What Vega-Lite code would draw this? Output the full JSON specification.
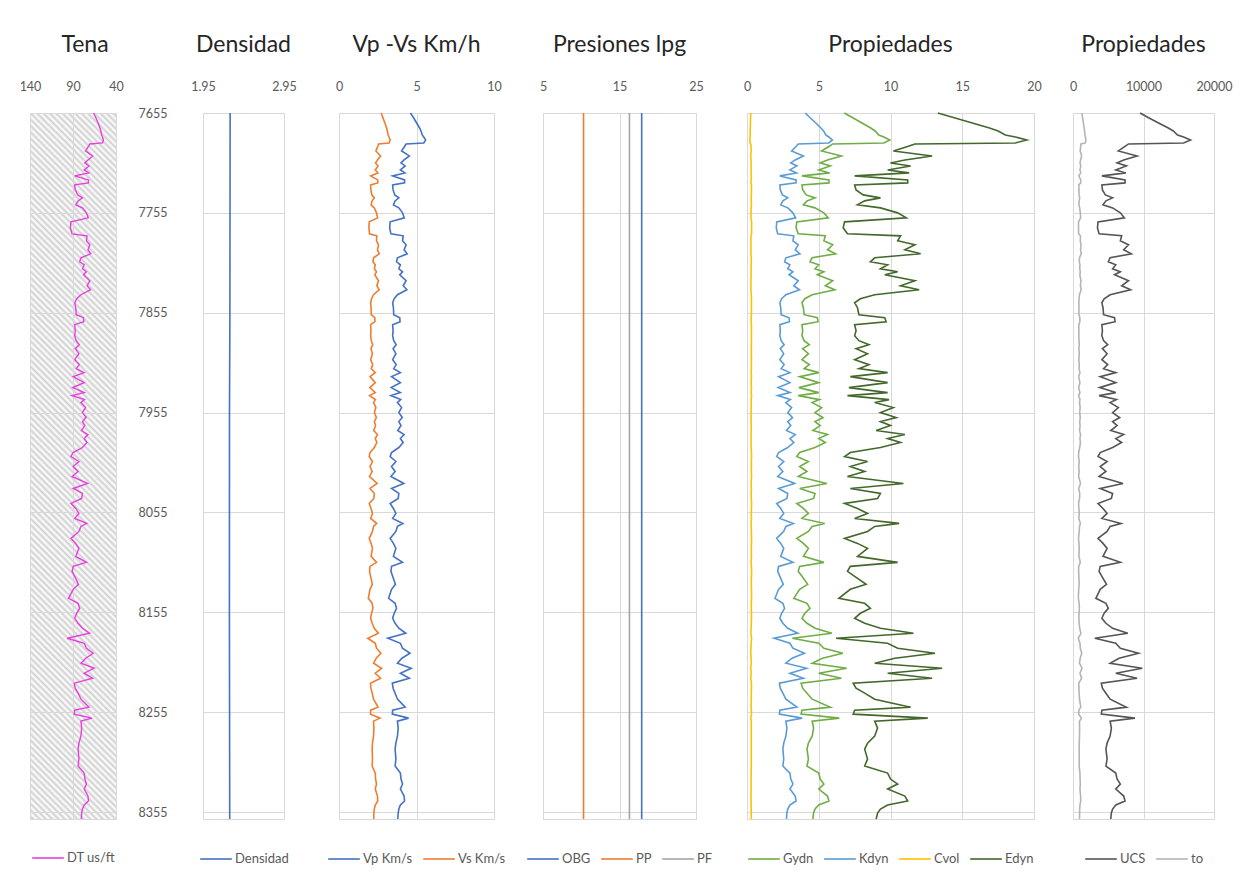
{
  "$schema": "https://vega.github.io/schema/vega-lite/v6.json",
  "autosize": {"type": "pad"},
  "padding": {"left": 18, "top": 33, "right": 5, "bottom": 4},
  "background": "white",
  "config": {
    "font": "Lato",
    "view": {"stroke": "#d9d9d9", "strokeWidth": 1},
    "axis": {"labelFont": "Lato", "labelFontSize": 12.5, "labelColor": "#595959", "gridColor": "#d9d9d9", "gridWidth": 1, "domain": false, "ticks": false, "tickSize": 0, "labelFlush": false, "labelOverlap": false, "labelPadding": 20},
    "title": {"font": "Lato", "fontSize": 23, "color": "#262626", "fontWeight": "normal", "offset": 23, "anchor": "middle", "baseline": "bottom"},
    "legend": {"orient": "bottom", "direction": "horizontal", "symbolType": "stroke", "symbolSize": 1000, "symbolStrokeWidth": 1.5, "labelFont": "Lato", "labelFontSize": 13, "labelColor": "#595959", "offset": 19, "padding": 0, "columnPadding": 6, "labelOffset": 2, "layout": {"bottom": {"anchor": "middle"}}},
    "line": {"strokeWidth": 1.6}
  },
  "datasets": {
    "log": [
      {"d":7655,"DT":66.1,"Vp":4.61,"Vs":2.72,"Gydn":6.78,"Kdyn":4.06,"Cvol":0.26,"Edyn":13.3,"UCS":9506,"to":1260},
      {"d":7660,"DT":63.3,"Vp":4.82,"Vs":2.84,"Gydn":7.4,"Kdyn":4.42,"Cvol":0.25,"Edyn":14.5,"UCS":10792,"to":1363},
      {"d":7665,"DT":60.8,"Vp":5.01,"Vs":2.96,"Gydn":8.01,"Kdyn":4.79,"Cvol":0.24,"Edyn":15.7,"UCS":12132,"to":1471},
      {"d":7670,"DT":58.6,"Vp":5.2,"Vs":3.07,"Gydn":8.62,"Kdyn":5.15,"Cvol":0.23,"Edyn":16.9,"UCS":13518,"to":1581},
      {"d":7673,"DT":57.6,"Vp":5.29,"Vs":3.12,"Gydn":8.93,"Kdyn":5.34,"Cvol":0.22,"Edyn":17.5,"UCS":14230,"to":1638},
      {"d":7677,"DT":56.8,"Vp":5.37,"Vs":3.17,"Gydn":9.18,"Kdyn":5.49,"Cvol":0.22,"Edyn":18,"UCS":14831,"to":1686},
      {"d":7679,"DT":55.7,"Vp":5.47,"Vs":3.23,"Gydn":9.54,"Kdyn":5.7,"Cvol":0.21,"Edyn":18.7,"UCS":15686,"to":1755},
      {"d":7682,"DT":54.6,"Vp":5.59,"Vs":3.3,"Gydn":9.95,"Kdyn":5.95,"Cvol":0.2,"Edyn":19.5,"UCS":16682,"to":1835},
      {"d":7685,"DT":55.7,"Vp":5.47,"Vs":3.23,"Gydn":9.54,"Kdyn":5.7,"Cvol":0.21,"Edyn":18.7,"UCS":15686,"to":1755},
      {"d":7686,"DT":70.4,"Vp":4.33,"Vs":2.55,"Gydn":5.97,"Kdyn":3.57,"Cvol":0.27,"Edyn":11.7,"UCS":7873,"to":1130},
      {"d":7688,"DT":71.7,"Vp":4.25,"Vs":2.51,"Gydn":5.76,"Kdyn":3.45,"Cvol":0.28,"Edyn":11.3,"UCS":7481,"to":1098},
      {"d":7693,"DT":75.4,"Vp":4.04,"Vs":2.38,"Gydn":5.2,"Kdyn":3.11,"Cvol":0.29,"Edyn":10.2,"UCS":6435,"to":1015},
      {"d":7698,"DT":67.1,"Vp":4.54,"Vs":2.68,"Gydn":6.58,"Kdyn":3.93,"Cvol":0.26,"Edyn":12.9,"UCS":9088,"to":1227},
      {"d":7702,"DT":72.6,"Vp":4.2,"Vs":2.48,"Gydn":5.61,"Kdyn":3.36,"Cvol":0.28,"Edyn":11,"UCS":7191,"to":1075},
      {"d":7705,"DT":76.2,"Vp":4,"Vs":2.36,"Gydn":5.1,"Kdyn":3.05,"Cvol":0.29,"Edyn":10,"UCS":6251,"to":1000},
      {"d":7708,"DT":71.4,"Vp":4.27,"Vs":2.52,"Gydn":5.81,"Kdyn":3.48,"Cvol":0.28,"Edyn":11.4,"UCS":7578,"to":1106},
      {"d":7712,"DT":77,"Vp":3.96,"Vs":2.34,"Gydn":5,"Kdyn":2.99,"Cvol":0.29,"Edyn":9.8,"UCS":6068,"to":985},
      {"d":7715,"DT":71.7,"Vp":4.25,"Vs":2.51,"Gydn":5.76,"Kdyn":3.45,"Cvol":0.28,"Edyn":11.3,"UCS":7481,"to":1098},
      {"d":7718,"DT":88,"Vp":3.46,"Vs":2.04,"Gydn":3.83,"Kdyn":2.29,"Cvol":0.31,"Edyn":7.5,"UCS":4095,"to":828},
      {"d":7722,"DT":72,"Vp":4.23,"Vs":2.5,"Gydn":5.71,"Kdyn":3.42,"Cvol":0.28,"Edyn":11.2,"UCS":7383,"to":1091},
      {"d":7725,"DT":72,"Vp":4.23,"Vs":2.5,"Gydn":5.71,"Kdyn":3.42,"Cvol":0.28,"Edyn":11.2,"UCS":7383,"to":1091},
      {"d":7727,"DT":88,"Vp":3.46,"Vs":2.04,"Gydn":3.83,"Kdyn":2.29,"Cvol":0.31,"Edyn":7.5,"UCS":4095,"to":828},
      {"d":7732,"DT":87.4,"Vp":3.49,"Vs":2.06,"Gydn":3.88,"Kdyn":2.32,"Cvol":0.31,"Edyn":7.6,"UCS":4175,"to":834},
      {"d":7737,"DT":84.7,"Vp":3.6,"Vs":2.12,"Gydn":4.13,"Kdyn":2.47,"Cvol":0.31,"Edyn":8.1,"UCS":4586,"to":867},
      {"d":7740,"DT":79,"Vp":3.86,"Vs":2.28,"Gydn":4.74,"Kdyn":2.84,"Cvol":0.29,"Edyn":9.3,"UCS":5618,"to":949},
      {"d":7743,"DT":84.1,"Vp":3.62,"Vs":2.14,"Gydn":4.18,"Kdyn":2.5,"Cvol":0.3,"Edyn":8.2,"UCS":4669,"to":874},
      {"d":7747,"DT":86.8,"Vp":3.51,"Vs":2.07,"Gydn":3.93,"Kdyn":2.35,"Cvol":0.31,"Edyn":7.7,"UCS":4257,"to":841},
      {"d":7750,"DT":79,"Vp":3.86,"Vs":2.28,"Gydn":4.74,"Kdyn":2.84,"Cvol":0.29,"Edyn":9.3,"UCS":5618,"to":949},
      {"d":7755,"DT":74.4,"Vp":4.1,"Vs":2.42,"Gydn":5.36,"Kdyn":3.2,"Cvol":0.28,"Edyn":10.5,"UCS":6715,"to":1037},
      {"d":7760,"DT":72.3,"Vp":4.21,"Vs":2.49,"Gydn":5.66,"Kdyn":3.39,"Cvol":0.28,"Edyn":11.1,"UCS":7286,"to":1083},
      {"d":7764,"DT":92.4,"Vp":3.3,"Vs":1.95,"Gydn":3.47,"Kdyn":2.07,"Cvol":0.32,"Edyn":6.8,"UCS":3546,"to":784},
      {"d":7770,"DT":93.1,"Vp":3.27,"Vs":1.93,"Gydn":3.42,"Kdyn":2.04,"Cvol":0.32,"Edyn":6.7,"UCS":3469,"to":778},
      {"d":7776,"DT":91.1,"Vp":3.35,"Vs":1.97,"Gydn":3.57,"Kdyn":2.14,"Cvol":0.32,"Edyn":7,"UCS":3700,"to":796},
      {"d":7778,"DT":73.7,"Vp":4.14,"Vs":2.44,"Gydn":5.46,"Kdyn":3.26,"Cvol":0.28,"Edyn":10.7,"UCS":6904,"to":1052},
      {"d":7783,"DT":74.4,"Vp":4.1,"Vs":2.42,"Gydn":5.36,"Kdyn":3.2,"Cvol":0.28,"Edyn":10.5,"UCS":6715,"to":1037},
      {"d":7787,"DT":70.4,"Vp":4.33,"Vs":2.55,"Gydn":5.97,"Kdyn":3.57,"Cvol":0.27,"Edyn":11.7,"UCS":7873,"to":1130},
      {"d":7792,"DT":72.6,"Vp":4.2,"Vs":2.48,"Gydn":5.61,"Kdyn":3.36,"Cvol":0.28,"Edyn":11,"UCS":7191,"to":1075},
      {"d":7796,"DT":69.3,"Vp":4.4,"Vs":2.6,"Gydn":6.17,"Kdyn":3.69,"Cvol":0.27,"Edyn":12.1,"UCS":8272,"to":1162},
      {"d":7800,"DT":80.8,"Vp":3.77,"Vs":2.23,"Gydn":4.54,"Kdyn":2.71,"Cvol":0.3,"Edyn":8.9,"UCS":5266,"to":921},
      {"d":7804,"DT":82.2,"Vp":3.71,"Vs":2.19,"Gydn":4.39,"Kdyn":2.62,"Cvol":0.3,"Edyn":8.6,"UCS":5008,"to":901},
      {"d":7807,"DT":77,"Vp":3.96,"Vs":2.34,"Gydn":5,"Kdyn":2.99,"Cvol":0.29,"Edyn":9.8,"UCS":6068,"to":985},
      {"d":7811,"DT":79,"Vp":3.86,"Vs":2.28,"Gydn":4.74,"Kdyn":2.84,"Cvol":0.29,"Edyn":9.3,"UCS":5618,"to":949},
      {"d":7814,"DT":74.4,"Vp":4.1,"Vs":2.42,"Gydn":5.36,"Kdyn":3.2,"Cvol":0.28,"Edyn":10.5,"UCS":6715,"to":1037},
      {"d":7817,"DT":77.8,"Vp":3.92,"Vs":2.31,"Gydn":4.9,"Kdyn":2.93,"Cvol":0.29,"Edyn":9.6,"UCS":5886,"to":971},
      {"d":7823,"DT":70.4,"Vp":4.33,"Vs":2.55,"Gydn":5.97,"Kdyn":3.57,"Cvol":0.27,"Edyn":11.7,"UCS":7873,"to":1130},
      {"d":7828,"DT":73.7,"Vp":4.14,"Vs":2.44,"Gydn":5.46,"Kdyn":3.26,"Cvol":0.28,"Edyn":10.7,"UCS":6904,"to":1052},
      {"d":7832,"DT":69.6,"Vp":4.38,"Vs":2.59,"Gydn":6.12,"Kdyn":3.66,"Cvol":0.27,"Edyn":12,"UCS":8172,"to":1154},
      {"d":7837,"DT":80.8,"Vp":3.77,"Vs":2.23,"Gydn":4.54,"Kdyn":2.71,"Cvol":0.3,"Edyn":8.9,"UCS":5266,"to":921},
      {"d":7841,"DT":85.7,"Vp":3.56,"Vs":2.1,"Gydn":4.03,"Kdyn":2.41,"Cvol":0.31,"Edyn":7.9,"UCS":4420,"to":854},
      {"d":7845,"DT":88,"Vp":3.46,"Vs":2.04,"Gydn":3.83,"Kdyn":2.29,"Cvol":0.31,"Edyn":7.5,"UCS":4095,"to":828},
      {"d":7850,"DT":86.8,"Vp":3.51,"Vs":2.07,"Gydn":3.93,"Kdyn":2.35,"Cvol":0.31,"Edyn":7.7,"UCS":4257,"to":841},
      {"d":7857,"DT":86.3,"Vp":3.53,"Vs":2.08,"Gydn":3.98,"Kdyn":2.38,"Cvol":0.31,"Edyn":7.8,"UCS":4338,"to":847},
      {"d":7860,"DT":77.8,"Vp":3.92,"Vs":2.31,"Gydn":4.9,"Kdyn":2.93,"Cvol":0.29,"Edyn":9.6,"UCS":5886,"to":971},
      {"d":7864,"DT":77.4,"Vp":3.94,"Vs":2.32,"Gydn":4.95,"Kdyn":2.96,"Cvol":0.29,"Edyn":9.7,"UCS":5978,"to":978},
      {"d":7867,"DT":88,"Vp":3.46,"Vs":2.04,"Gydn":3.83,"Kdyn":2.29,"Cvol":0.31,"Edyn":7.5,"UCS":4095,"to":828},
      {"d":7873,"DT":87.4,"Vp":3.49,"Vs":2.06,"Gydn":3.88,"Kdyn":2.32,"Cvol":0.31,"Edyn":7.6,"UCS":4175,"to":834},
      {"d":7878,"DT":88,"Vp":3.46,"Vs":2.04,"Gydn":3.83,"Kdyn":2.29,"Cvol":0.31,"Edyn":7.5,"UCS":4095,"to":828},
      {"d":7883,"DT":86.3,"Vp":3.53,"Vs":2.08,"Gydn":3.98,"Kdyn":2.38,"Cvol":0.31,"Edyn":7.8,"UCS":4338,"to":847},
      {"d":7887,"DT":82.7,"Vp":3.69,"Vs":2.18,"Gydn":4.34,"Kdyn":2.59,"Cvol":0.3,"Edyn":8.5,"UCS":4922,"to":894},
      {"d":7891,"DT":87.4,"Vp":3.49,"Vs":2.06,"Gydn":3.88,"Kdyn":2.32,"Cvol":0.31,"Edyn":7.6,"UCS":4175,"to":834},
      {"d":7896,"DT":83.1,"Vp":3.67,"Vs":2.16,"Gydn":4.28,"Kdyn":2.56,"Cvol":0.3,"Edyn":8.4,"UCS":4837,"to":887},
      {"d":7902,"DT":88,"Vp":3.46,"Vs":2.04,"Gydn":3.83,"Kdyn":2.29,"Cvol":0.31,"Edyn":7.5,"UCS":4095,"to":828},
      {"d":7907,"DT":82.7,"Vp":3.69,"Vs":2.18,"Gydn":4.34,"Kdyn":2.59,"Cvol":0.3,"Edyn":8.5,"UCS":4922,"to":894},
      {"d":7911,"DT":86.3,"Vp":3.53,"Vs":2.08,"Gydn":3.98,"Kdyn":2.38,"Cvol":0.31,"Edyn":7.8,"UCS":4338,"to":847},
      {"d":7915,"DT":77,"Vp":3.96,"Vs":2.34,"Gydn":5,"Kdyn":2.99,"Cvol":0.29,"Edyn":9.8,"UCS":6068,"to":985},
      {"d":7919,"DT":89.8,"Vp":3.39,"Vs":2,"Gydn":3.67,"Kdyn":2.2,"Cvol":0.31,"Edyn":7.2,"UCS":3857,"to":809},
      {"d":7925,"DT":77,"Vp":3.96,"Vs":2.34,"Gydn":5,"Kdyn":2.99,"Cvol":0.29,"Edyn":9.8,"UCS":6068,"to":985},
      {"d":7930,"DT":90.4,"Vp":3.37,"Vs":1.99,"Gydn":3.62,"Kdyn":2.17,"Cvol":0.31,"Edyn":7.1,"UCS":3778,"to":802},
      {"d":7935,"DT":77,"Vp":3.96,"Vs":2.34,"Gydn":5,"Kdyn":2.99,"Cvol":0.29,"Edyn":9.8,"UCS":6068,"to":985},
      {"d":7938,"DT":91.1,"Vp":3.35,"Vs":1.97,"Gydn":3.57,"Kdyn":2.14,"Cvol":0.32,"Edyn":7,"UCS":3700,"to":796},
      {"d":7942,"DT":76.6,"Vp":3.98,"Vs":2.35,"Gydn":5.05,"Kdyn":3.02,"Cvol":0.29,"Edyn":9.9,"UCS":6159,"to":993},
      {"d":7945,"DT":80.8,"Vp":3.77,"Vs":2.23,"Gydn":4.54,"Kdyn":2.71,"Cvol":0.3,"Edyn":8.9,"UCS":5266,"to":921},
      {"d":7950,"DT":75.4,"Vp":4.04,"Vs":2.38,"Gydn":5.2,"Kdyn":3.11,"Cvol":0.29,"Edyn":10.2,"UCS":6435,"to":1015},
      {"d":7955,"DT":79,"Vp":3.86,"Vs":2.28,"Gydn":4.74,"Kdyn":2.84,"Cvol":0.29,"Edyn":9.3,"UCS":5618,"to":949},
      {"d":7960,"DT":74.7,"Vp":4.08,"Vs":2.41,"Gydn":5.3,"Kdyn":3.17,"Cvol":0.28,"Edyn":10.4,"UCS":6622,"to":1030},
      {"d":7964,"DT":79,"Vp":3.86,"Vs":2.28,"Gydn":4.74,"Kdyn":2.84,"Cvol":0.29,"Edyn":9.3,"UCS":5618,"to":949},
      {"d":7968,"DT":76.2,"Vp":4,"Vs":2.36,"Gydn":5.1,"Kdyn":3.05,"Cvol":0.29,"Edyn":10,"UCS":6251,"to":1000},
      {"d":7973,"DT":80.3,"Vp":3.79,"Vs":2.24,"Gydn":4.59,"Kdyn":2.75,"Cvol":0.3,"Edyn":9,"UCS":5354,"to":928},
      {"d":7977,"DT":72.6,"Vp":4.2,"Vs":2.48,"Gydn":5.61,"Kdyn":3.36,"Cvol":0.28,"Edyn":11,"UCS":7191,"to":1075},
      {"d":7981,"DT":77,"Vp":3.96,"Vs":2.34,"Gydn":5,"Kdyn":2.99,"Cvol":0.29,"Edyn":9.8,"UCS":6068,"to":985},
      {"d":7985,"DT":73.7,"Vp":4.14,"Vs":2.44,"Gydn":5.46,"Kdyn":3.26,"Cvol":0.28,"Edyn":10.7,"UCS":6904,"to":1052},
      {"d":7990,"DT":79,"Vp":3.86,"Vs":2.28,"Gydn":4.74,"Kdyn":2.84,"Cvol":0.29,"Edyn":9.3,"UCS":5618,"to":949},
      {"d":7995,"DT":89.8,"Vp":3.39,"Vs":2,"Gydn":3.67,"Kdyn":2.2,"Cvol":0.31,"Edyn":7.2,"UCS":3857,"to":809},
      {"d":7999,"DT":92.4,"Vp":3.3,"Vs":1.95,"Gydn":3.47,"Kdyn":2.07,"Cvol":0.32,"Edyn":6.8,"UCS":3546,"to":784},
      {"d":8004,"DT":83.1,"Vp":3.67,"Vs":2.16,"Gydn":4.28,"Kdyn":2.56,"Cvol":0.3,"Edyn":8.4,"UCS":4837,"to":887},
      {"d":8009,"DT":89.8,"Vp":3.39,"Vs":2,"Gydn":3.67,"Kdyn":2.2,"Cvol":0.31,"Edyn":7.2,"UCS":3857,"to":809},
      {"d":8014,"DT":84.1,"Vp":3.62,"Vs":2.14,"Gydn":4.18,"Kdyn":2.5,"Cvol":0.3,"Edyn":8.2,"UCS":4669,"to":874},
      {"d":8019,"DT":91.1,"Vp":3.35,"Vs":1.97,"Gydn":3.57,"Kdyn":2.14,"Cvol":0.32,"Edyn":7,"UCS":3700,"to":796},
      {"d":8026,"DT":73,"Vp":4.18,"Vs":2.46,"Gydn":5.56,"Kdyn":3.32,"Cvol":0.28,"Edyn":10.9,"UCS":7094,"to":1068},
      {"d":8031,"DT":89.8,"Vp":3.39,"Vs":2,"Gydn":3.67,"Kdyn":2.2,"Cvol":0.31,"Edyn":7.2,"UCS":3857,"to":809},
      {"d":8036,"DT":79,"Vp":3.86,"Vs":2.28,"Gydn":4.74,"Kdyn":2.84,"Cvol":0.29,"Edyn":9.3,"UCS":5618,"to":949},
      {"d":8041,"DT":79.9,"Vp":3.82,"Vs":2.25,"Gydn":4.64,"Kdyn":2.78,"Cvol":0.3,"Edyn":9.1,"UCS":5442,"to":935},
      {"d":8046,"DT":92.4,"Vp":3.3,"Vs":1.95,"Gydn":3.47,"Kdyn":2.07,"Cvol":0.32,"Edyn":6.8,"UCS":3546,"to":784},
      {"d":8051,"DT":86.8,"Vp":3.51,"Vs":2.07,"Gydn":3.93,"Kdyn":2.35,"Cvol":0.31,"Edyn":7.7,"UCS":4257,"to":841},
      {"d":8056,"DT":83.1,"Vp":3.67,"Vs":2.16,"Gydn":4.28,"Kdyn":2.56,"Cvol":0.3,"Edyn":8.4,"UCS":4837,"to":887},
      {"d":8061,"DT":88,"Vp":3.46,"Vs":2.04,"Gydn":3.83,"Kdyn":2.29,"Cvol":0.31,"Edyn":7.5,"UCS":4095,"to":828},
      {"d":8066,"DT":74,"Vp":4.12,"Vs":2.43,"Gydn":5.41,"Kdyn":3.23,"Cvol":0.28,"Edyn":10.6,"UCS":6810,"to":1045},
      {"d":8069,"DT":80.8,"Vp":3.77,"Vs":2.23,"Gydn":4.54,"Kdyn":2.71,"Cvol":0.3,"Edyn":8.9,"UCS":5266,"to":921},
      {"d":8074,"DT":83.1,"Vp":3.67,"Vs":2.16,"Gydn":4.28,"Kdyn":2.56,"Cvol":0.3,"Edyn":8.4,"UCS":4837,"to":887},
      {"d":8081,"DT":92.4,"Vp":3.3,"Vs":1.95,"Gydn":3.47,"Kdyn":2.07,"Cvol":0.32,"Edyn":6.8,"UCS":3546,"to":784},
      {"d":8086,"DT":86.8,"Vp":3.51,"Vs":2.07,"Gydn":3.93,"Kdyn":2.35,"Cvol":0.31,"Edyn":7.7,"UCS":4257,"to":841},
      {"d":8091,"DT":83.1,"Vp":3.67,"Vs":2.16,"Gydn":4.28,"Kdyn":2.56,"Cvol":0.3,"Edyn":8.4,"UCS":4837,"to":887},
      {"d":8099,"DT":86.8,"Vp":3.51,"Vs":2.07,"Gydn":3.93,"Kdyn":2.35,"Cvol":0.31,"Edyn":7.7,"UCS":4257,"to":841},
      {"d":8105,"DT":74.4,"Vp":4.1,"Vs":2.42,"Gydn":5.36,"Kdyn":3.2,"Cvol":0.28,"Edyn":10.5,"UCS":6715,"to":1037},
      {"d":8109,"DT":89.8,"Vp":3.39,"Vs":2,"Gydn":3.67,"Kdyn":2.2,"Cvol":0.31,"Edyn":7.2,"UCS":3857,"to":809},
      {"d":8114,"DT":91.1,"Vp":3.35,"Vs":1.97,"Gydn":3.57,"Kdyn":2.14,"Cvol":0.32,"Edyn":7,"UCS":3700,"to":796},
      {"d":8119,"DT":88,"Vp":3.46,"Vs":2.04,"Gydn":3.83,"Kdyn":2.29,"Cvol":0.31,"Edyn":7.5,"UCS":4095,"to":828},
      {"d":8127,"DT":83.6,"Vp":3.64,"Vs":2.15,"Gydn":4.23,"Kdyn":2.53,"Cvol":0.3,"Edyn":8.3,"UCS":4754,"to":880},
      {"d":8132,"DT":89.8,"Vp":3.39,"Vs":2,"Gydn":3.67,"Kdyn":2.2,"Cvol":0.31,"Edyn":7.2,"UCS":3857,"to":809},
      {"d":8141,"DT":95.2,"Vp":3.2,"Vs":1.89,"Gydn":3.26,"Kdyn":1.95,"Cvol":0.32,"Edyn":6.4,"UCS":3243,"to":759},
      {"d":8146,"DT":84.1,"Vp":3.62,"Vs":2.14,"Gydn":4.18,"Kdyn":2.5,"Cvol":0.3,"Edyn":8.2,"UCS":4669,"to":874},
      {"d":8151,"DT":82.2,"Vp":3.71,"Vs":2.19,"Gydn":4.39,"Kdyn":2.62,"Cvol":0.3,"Edyn":8.6,"UCS":5008,"to":901},
      {"d":8156,"DT":85.7,"Vp":3.56,"Vs":2.1,"Gydn":4.03,"Kdyn":2.41,"Cvol":0.31,"Edyn":7.9,"UCS":4420,"to":854},
      {"d":8161,"DT":88,"Vp":3.46,"Vs":2.04,"Gydn":3.83,"Kdyn":2.29,"Cvol":0.31,"Edyn":7.5,"UCS":4095,"to":828},
      {"d":8166,"DT":84.1,"Vp":3.62,"Vs":2.14,"Gydn":4.18,"Kdyn":2.5,"Cvol":0.3,"Edyn":8.2,"UCS":4669,"to":874},
      {"d":8171,"DT":79,"Vp":3.86,"Vs":2.28,"Gydn":4.74,"Kdyn":2.84,"Cvol":0.29,"Edyn":9.3,"UCS":5618,"to":949},
      {"d":8176,"DT":70.7,"Vp":4.31,"Vs":2.54,"Gydn":5.92,"Kdyn":3.54,"Cvol":0.27,"Edyn":11.6,"UCS":7774,"to":1122},
      {"d":8181,"DT":96.8,"Vp":3.15,"Vs":1.86,"Gydn":3.16,"Kdyn":1.89,"Cvol":0.32,"Edyn":6.2,"UCS":3095,"to":748},
      {"d":8186,"DT":77,"Vp":3.96,"Vs":2.34,"Gydn":5,"Kdyn":2.99,"Cvol":0.29,"Edyn":9.8,"UCS":6068,"to":985},
      {"d":8191,"DT":74.4,"Vp":4.1,"Vs":2.42,"Gydn":5.36,"Kdyn":3.2,"Cvol":0.28,"Edyn":10.5,"UCS":6715,"to":1037},
      {"d":8196,"DT":66.6,"Vp":4.58,"Vs":2.7,"Gydn":6.68,"Kdyn":4,"Cvol":0.26,"Edyn":13.1,"UCS":9297,"to":1244},
      {"d":8201,"DT":75.1,"Vp":4.06,"Vs":2.4,"Gydn":5.25,"Kdyn":3.14,"Cvol":0.29,"Edyn":10.3,"UCS":6528,"to":1022},
      {"d":8206,"DT":80.8,"Vp":3.77,"Vs":2.23,"Gydn":4.54,"Kdyn":2.71,"Cvol":0.3,"Edyn":8.9,"UCS":5266,"to":921},
      {"d":8211,"DT":65.3,"Vp":4.66,"Vs":2.75,"Gydn":6.94,"Kdyn":4.15,"Cvol":0.26,"Edyn":13.6,"UCS":9823,"to":1286},
      {"d":8216,"DT":77,"Vp":3.96,"Vs":2.34,"Gydn":5,"Kdyn":2.99,"Cvol":0.29,"Edyn":9.8,"UCS":6068,"to":985},
      {"d":8221,"DT":67.1,"Vp":4.54,"Vs":2.68,"Gydn":6.58,"Kdyn":3.93,"Cvol":0.26,"Edyn":12.9,"UCS":9088,"to":1227},
      {"d":8226,"DT":88.6,"Vp":3.44,"Vs":2.03,"Gydn":3.77,"Kdyn":2.26,"Cvol":0.31,"Edyn":7.4,"UCS":4015,"to":821},
      {"d":8231,"DT":87.4,"Vp":3.49,"Vs":2.06,"Gydn":3.88,"Kdyn":2.32,"Cvol":0.31,"Edyn":7.6,"UCS":4175,"to":834},
      {"d":8236,"DT":84.1,"Vp":3.62,"Vs":2.14,"Gydn":4.18,"Kdyn":2.5,"Cvol":0.3,"Edyn":8.2,"UCS":4669,"to":874},
      {"d":8242,"DT":80.8,"Vp":3.77,"Vs":2.23,"Gydn":4.54,"Kdyn":2.71,"Cvol":0.3,"Edyn":8.9,"UCS":5266,"to":921},
      {"d":8250,"DT":71.4,"Vp":4.27,"Vs":2.52,"Gydn":5.81,"Kdyn":3.48,"Cvol":0.28,"Edyn":11.4,"UCS":7578,"to":1106},
      {"d":8253,"DT":88,"Vp":3.46,"Vs":2.04,"Gydn":3.83,"Kdyn":2.29,"Cvol":0.31,"Edyn":7.5,"UCS":4095,"to":828},
      {"d":8257,"DT":88.6,"Vp":3.44,"Vs":2.03,"Gydn":3.77,"Kdyn":2.26,"Cvol":0.31,"Edyn":7.4,"UCS":4015,"to":821},
      {"d":8261,"DT":67.9,"Vp":4.49,"Vs":2.65,"Gydn":6.43,"Kdyn":3.84,"Cvol":0.26,"Edyn":12.6,"UCS":8780,"to":1202},
      {"d":8264,"DT":80.8,"Vp":3.77,"Vs":2.23,"Gydn":4.54,"Kdyn":2.71,"Cvol":0.3,"Edyn":8.9,"UCS":5266,"to":921},
      {"d":8271,"DT":79.9,"Vp":3.82,"Vs":2.25,"Gydn":4.64,"Kdyn":2.78,"Cvol":0.3,"Edyn":9.1,"UCS":5442,"to":935},
      {"d":8279,"DT":80.8,"Vp":3.77,"Vs":2.23,"Gydn":4.54,"Kdyn":2.71,"Cvol":0.3,"Edyn":8.9,"UCS":5266,"to":921},
      {"d":8286,"DT":83.1,"Vp":3.67,"Vs":2.16,"Gydn":4.28,"Kdyn":2.56,"Cvol":0.3,"Edyn":8.4,"UCS":4837,"to":887},
      {"d":8292,"DT":84.1,"Vp":3.62,"Vs":2.14,"Gydn":4.18,"Kdyn":2.5,"Cvol":0.3,"Edyn":8.2,"UCS":4669,"to":874},
      {"d":8302,"DT":83.1,"Vp":3.67,"Vs":2.16,"Gydn":4.28,"Kdyn":2.56,"Cvol":0.3,"Edyn":8.4,"UCS":4837,"to":887},
      {"d":8309,"DT":84.1,"Vp":3.62,"Vs":2.14,"Gydn":4.18,"Kdyn":2.5,"Cvol":0.3,"Edyn":8.2,"UCS":4669,"to":874},
      {"d":8316,"DT":77,"Vp":3.96,"Vs":2.34,"Gydn":5,"Kdyn":2.99,"Cvol":0.29,"Edyn":9.8,"UCS":6068,"to":985},
      {"d":8322,"DT":76.2,"Vp":4,"Vs":2.36,"Gydn":5.1,"Kdyn":3.05,"Cvol":0.29,"Edyn":10,"UCS":6251,"to":1000},
      {"d":8327,"DT":74.4,"Vp":4.1,"Vs":2.42,"Gydn":5.36,"Kdyn":3.2,"Cvol":0.28,"Edyn":10.5,"UCS":6715,"to":1037},
      {"d":8332,"DT":77,"Vp":3.96,"Vs":2.34,"Gydn":5,"Kdyn":2.99,"Cvol":0.29,"Edyn":9.8,"UCS":6068,"to":985},
      {"d":8339,"DT":72.6,"Vp":4.2,"Vs":2.48,"Gydn":5.61,"Kdyn":3.36,"Cvol":0.28,"Edyn":11,"UCS":7191,"to":1075},
      {"d":8344,"DT":72,"Vp":4.23,"Vs":2.5,"Gydn":5.71,"Kdyn":3.42,"Cvol":0.28,"Edyn":11.2,"UCS":7383,"to":1091},
      {"d":8348,"DT":77,"Vp":3.96,"Vs":2.34,"Gydn":5,"Kdyn":2.99,"Cvol":0.29,"Edyn":9.8,"UCS":6068,"to":985},
      {"d":8352,"DT":79,"Vp":3.86,"Vs":2.28,"Gydn":4.74,"Kdyn":2.84,"Cvol":0.29,"Edyn":9.3,"UCS":5618,"to":949},
      {"d":8356,"DT":79.9,"Vp":3.82,"Vs":2.25,"Gydn":4.64,"Kdyn":2.78,"Cvol":0.3,"Edyn":9.1,"UCS":5442,"to":935},
      {"d":8362,"DT":80.3,"Vp":3.79,"Vs":2.24,"Gydn":4.59,"Kdyn":2.75,"Cvol":0.3,"Edyn":9,"UCS":5354,"to":928}
    ],
    "dens": [
      {"d":7655,"Densidad":2.285},
      {"d":7855,"Densidad":2.282},
      {"d":7955,"Densidad":2.277},
      {"d":8155,"Densidad":2.276},
      {"d":8362,"Densidad":2.28}
    ],
    "pres": [
      {"d":7655,"OBG":17.9,"PP":10.3,"PF":16.3},
      {"d":8362,"OBG":17.9,"PP":10.3,"PF":16.3}
    ]
  },
  "spacing": 87,
  "bounds": "flush",
  "resolve": {"scale": {"color": "independent"}, "legend": {"color": "independent"}},
  "hconcat": [
    {
      "width": 86, "height": 706,
      "title": {"text": "Tena", "dx": 12},
      "view": {"stroke": "#d9d9d9", "fill": {"gradient": "linear", "x1": 0, "y1": 1, "x2": 0.1347, "y2": -0.1054, "stops": [
        {"offset":0,"color":"#fff"},{"offset":0.004,"color":"#d0d0d0"},{"offset":0.008,"color":"#fff"},{"offset":0.012,"color":"#d0d0d0"},{"offset":0.016,"color":"#fff"},{"offset":0.02,"color":"#d0d0d0"},{"offset":0.024,"color":"#fff"},{"offset":0.028,"color":"#d0d0d0"},{"offset":0.032,"color":"#fff"},{"offset":0.036,"color":"#d0d0d0"},
        {"offset":0.04,"color":"#fff"},{"offset":0.044,"color":"#d0d0d0"},{"offset":0.048,"color":"#fff"},{"offset":0.052,"color":"#d0d0d0"},{"offset":0.056,"color":"#fff"},{"offset":0.06,"color":"#d0d0d0"},{"offset":0.064,"color":"#fff"},{"offset":0.068,"color":"#d0d0d0"},{"offset":0.072,"color":"#fff"},{"offset":0.076,"color":"#d0d0d0"},
        {"offset":0.08,"color":"#fff"},{"offset":0.084,"color":"#d0d0d0"},{"offset":0.088,"color":"#fff"},{"offset":0.092,"color":"#d0d0d0"},{"offset":0.096,"color":"#fff"},{"offset":0.1,"color":"#d0d0d0"},{"offset":0.104,"color":"#fff"},{"offset":0.108,"color":"#d0d0d0"},{"offset":0.112,"color":"#fff"},{"offset":0.116,"color":"#d0d0d0"},
        {"offset":0.12,"color":"#fff"},{"offset":0.124,"color":"#d0d0d0"},{"offset":0.128,"color":"#fff"},{"offset":0.132,"color":"#d0d0d0"},{"offset":0.136,"color":"#fff"},{"offset":0.14,"color":"#d0d0d0"},{"offset":0.144,"color":"#fff"},{"offset":0.148,"color":"#d0d0d0"},{"offset":0.152,"color":"#fff"},{"offset":0.156,"color":"#d0d0d0"},
        {"offset":0.16,"color":"#fff"},{"offset":0.164,"color":"#d0d0d0"},{"offset":0.168,"color":"#fff"},{"offset":0.172,"color":"#d0d0d0"},{"offset":0.176,"color":"#fff"},{"offset":0.18,"color":"#d0d0d0"},{"offset":0.184,"color":"#fff"},{"offset":0.188,"color":"#d0d0d0"},{"offset":0.192,"color":"#fff"},{"offset":0.196,"color":"#d0d0d0"},
        {"offset":0.2,"color":"#fff"},{"offset":0.204,"color":"#d0d0d0"},{"offset":0.208,"color":"#fff"},{"offset":0.212,"color":"#d0d0d0"},{"offset":0.216,"color":"#fff"},{"offset":0.22,"color":"#d0d0d0"},{"offset":0.224,"color":"#fff"},{"offset":0.228,"color":"#d0d0d0"},{"offset":0.232,"color":"#fff"},{"offset":0.236,"color":"#d0d0d0"},
        {"offset":0.24,"color":"#fff"},{"offset":0.244,"color":"#d0d0d0"},{"offset":0.248,"color":"#fff"},{"offset":0.252,"color":"#d0d0d0"},{"offset":0.256,"color":"#fff"},{"offset":0.26,"color":"#d0d0d0"},{"offset":0.264,"color":"#fff"},{"offset":0.268,"color":"#d0d0d0"},{"offset":0.272,"color":"#fff"},{"offset":0.276,"color":"#d0d0d0"},
        {"offset":0.28,"color":"#fff"},{"offset":0.284,"color":"#d0d0d0"},{"offset":0.288,"color":"#fff"},{"offset":0.292,"color":"#d0d0d0"},{"offset":0.296,"color":"#fff"},{"offset":0.3,"color":"#d0d0d0"},{"offset":0.304,"color":"#fff"},{"offset":0.308,"color":"#d0d0d0"},{"offset":0.312,"color":"#fff"},{"offset":0.316,"color":"#d0d0d0"},
        {"offset":0.32,"color":"#fff"},{"offset":0.324,"color":"#d0d0d0"},{"offset":0.328,"color":"#fff"},{"offset":0.332,"color":"#d0d0d0"},{"offset":0.336,"color":"#fff"},{"offset":0.34,"color":"#d0d0d0"},{"offset":0.344,"color":"#fff"},{"offset":0.348,"color":"#d0d0d0"},{"offset":0.352,"color":"#fff"},{"offset":0.356,"color":"#d0d0d0"},
        {"offset":0.36,"color":"#fff"},{"offset":0.364,"color":"#d0d0d0"},{"offset":0.368,"color":"#fff"},{"offset":0.372,"color":"#d0d0d0"},{"offset":0.376,"color":"#fff"},{"offset":0.38,"color":"#d0d0d0"},{"offset":0.384,"color":"#fff"},{"offset":0.388,"color":"#d0d0d0"},{"offset":0.392,"color":"#fff"},{"offset":0.396,"color":"#d0d0d0"},
        {"offset":0.4,"color":"#fff"},{"offset":0.404,"color":"#d0d0d0"},{"offset":0.408,"color":"#fff"},{"offset":0.412,"color":"#d0d0d0"},{"offset":0.416,"color":"#fff"},{"offset":0.42,"color":"#d0d0d0"},{"offset":0.424,"color":"#fff"},{"offset":0.428,"color":"#d0d0d0"},{"offset":0.432,"color":"#fff"},{"offset":0.436,"color":"#d0d0d0"},
        {"offset":0.44,"color":"#fff"},{"offset":0.444,"color":"#d0d0d0"},{"offset":0.448,"color":"#fff"},{"offset":0.452,"color":"#d0d0d0"},{"offset":0.456,"color":"#fff"},{"offset":0.46,"color":"#d0d0d0"},{"offset":0.464,"color":"#fff"},{"offset":0.468,"color":"#d0d0d0"},{"offset":0.472,"color":"#fff"},{"offset":0.476,"color":"#d0d0d0"},
        {"offset":0.48,"color":"#fff"},{"offset":0.484,"color":"#d0d0d0"},{"offset":0.488,"color":"#fff"},{"offset":0.492,"color":"#d0d0d0"},{"offset":0.496,"color":"#fff"},{"offset":0.5,"color":"#d0d0d0"},{"offset":0.504,"color":"#fff"},{"offset":0.508,"color":"#d0d0d0"},{"offset":0.512,"color":"#fff"},{"offset":0.516,"color":"#d0d0d0"},
        {"offset":0.52,"color":"#fff"},{"offset":0.524,"color":"#d0d0d0"},{"offset":0.528,"color":"#fff"},{"offset":0.532,"color":"#d0d0d0"},{"offset":0.536,"color":"#fff"},{"offset":0.54,"color":"#d0d0d0"},{"offset":0.544,"color":"#fff"},{"offset":0.548,"color":"#d0d0d0"},{"offset":0.552,"color":"#fff"},{"offset":0.556,"color":"#d0d0d0"},
        {"offset":0.56,"color":"#fff"},{"offset":0.564,"color":"#d0d0d0"},{"offset":0.568,"color":"#fff"},{"offset":0.572,"color":"#d0d0d0"},{"offset":0.576,"color":"#fff"},{"offset":0.58,"color":"#d0d0d0"},{"offset":0.584,"color":"#fff"},{"offset":0.588,"color":"#d0d0d0"},{"offset":0.592,"color":"#fff"},{"offset":0.596,"color":"#d0d0d0"},
        {"offset":0.6,"color":"#fff"},{"offset":0.604,"color":"#d0d0d0"},{"offset":0.608,"color":"#fff"},{"offset":0.612,"color":"#d0d0d0"},{"offset":0.616,"color":"#fff"},{"offset":0.62,"color":"#d0d0d0"},{"offset":0.624,"color":"#fff"},{"offset":0.628,"color":"#d0d0d0"},{"offset":0.632,"color":"#fff"},{"offset":0.636,"color":"#d0d0d0"},
        {"offset":0.64,"color":"#fff"},{"offset":0.644,"color":"#d0d0d0"},{"offset":0.648,"color":"#fff"},{"offset":0.652,"color":"#d0d0d0"},{"offset":0.656,"color":"#fff"},{"offset":0.66,"color":"#d0d0d0"},{"offset":0.664,"color":"#fff"},{"offset":0.668,"color":"#d0d0d0"},{"offset":0.672,"color":"#fff"},{"offset":0.676,"color":"#d0d0d0"},
        {"offset":0.68,"color":"#fff"},{"offset":0.684,"color":"#d0d0d0"},{"offset":0.688,"color":"#fff"},{"offset":0.692,"color":"#d0d0d0"},{"offset":0.696,"color":"#fff"},{"offset":0.7,"color":"#d0d0d0"},{"offset":0.704,"color":"#fff"},{"offset":0.708,"color":"#d0d0d0"},{"offset":0.712,"color":"#fff"},{"offset":0.716,"color":"#d0d0d0"},
        {"offset":0.72,"color":"#fff"},{"offset":0.724,"color":"#d0d0d0"},{"offset":0.728,"color":"#fff"},{"offset":0.732,"color":"#d0d0d0"},{"offset":0.736,"color":"#fff"},{"offset":0.74,"color":"#d0d0d0"},{"offset":0.744,"color":"#fff"},{"offset":0.748,"color":"#d0d0d0"},{"offset":0.752,"color":"#fff"},{"offset":0.756,"color":"#d0d0d0"},
        {"offset":0.76,"color":"#fff"},{"offset":0.764,"color":"#d0d0d0"},{"offset":0.768,"color":"#fff"},{"offset":0.772,"color":"#d0d0d0"},{"offset":0.776,"color":"#fff"},{"offset":0.78,"color":"#d0d0d0"},{"offset":0.784,"color":"#fff"},{"offset":0.788,"color":"#d0d0d0"},{"offset":0.792,"color":"#fff"},{"offset":0.796,"color":"#d0d0d0"},
        {"offset":0.8,"color":"#fff"},{"offset":0.804,"color":"#d0d0d0"},{"offset":0.808,"color":"#fff"},{"offset":0.812,"color":"#d0d0d0"},{"offset":0.816,"color":"#fff"},{"offset":0.82,"color":"#d0d0d0"},{"offset":0.824,"color":"#fff"},{"offset":0.828,"color":"#d0d0d0"},{"offset":0.832,"color":"#fff"},{"offset":0.836,"color":"#d0d0d0"},
        {"offset":0.84,"color":"#fff"},{"offset":0.844,"color":"#d0d0d0"},{"offset":0.848,"color":"#fff"},{"offset":0.852,"color":"#d0d0d0"},{"offset":0.856,"color":"#fff"},{"offset":0.86,"color":"#d0d0d0"},{"offset":0.864,"color":"#fff"},{"offset":0.868,"color":"#d0d0d0"},{"offset":0.872,"color":"#fff"},{"offset":0.876,"color":"#d0d0d0"},
        {"offset":0.88,"color":"#fff"},{"offset":0.884,"color":"#d0d0d0"},{"offset":0.888,"color":"#fff"},{"offset":0.892,"color":"#d0d0d0"},{"offset":0.896,"color":"#fff"},{"offset":0.9,"color":"#d0d0d0"},{"offset":0.904,"color":"#fff"},{"offset":0.908,"color":"#d0d0d0"},{"offset":0.912,"color":"#fff"},{"offset":0.916,"color":"#d0d0d0"},
        {"offset":0.92,"color":"#fff"},{"offset":0.924,"color":"#d0d0d0"},{"offset":0.928,"color":"#fff"},{"offset":0.932,"color":"#d0d0d0"},{"offset":0.936,"color":"#fff"},{"offset":0.94,"color":"#d0d0d0"},{"offset":0.944,"color":"#fff"},{"offset":0.948,"color":"#d0d0d0"},{"offset":0.952,"color":"#fff"},{"offset":0.956,"color":"#d0d0d0"},
        {"offset":0.96,"color":"#fff"},{"offset":0.964,"color":"#d0d0d0"},{"offset":0.968,"color":"#fff"},{"offset":0.972,"color":"#d0d0d0"},{"offset":0.976,"color":"#fff"},{"offset":0.98,"color":"#d0d0d0"},{"offset":0.984,"color":"#fff"},{"offset":0.988,"color":"#d0d0d0"},{"offset":0.992,"color":"#fff"},{"offset":0.996,"color":"#d0d0d0"},
        {"offset":1,"color":"#fff"}
      ]}},
      "data": {"name": "log"},
      "transform": [{"fold": ["DT"], "as": ["serie", "valor"]}],
      "mark": {"type": "line", "strokeWidth": 1.4},
      "encoding": {
        "x": {"field": "valor", "type": "quantitative", "scale": {"domain": [40, 140], "reverse": true, "nice": false, "zero": false}, "axis": {"orient": "top", "values": [140, 90, 40], "grid": true, "title": null}},
        "y": {"field": "d", "type": "quantitative", "scale": {"domain": [7655, 8362], "reverse": true, "nice": false, "zero": false}, "axis": {"orient": "right", "values": [7655,7755,7855,7955,8055,8155,8255,8355], "format": "d", "labelPadding": 22, "labelAlign": "left", "grid": true, "title": null}},
        "order": {"field": "d", "type": "quantitative"},
        "color": {"field": "serie", "type": "nominal", "scale": {"domain": ["DT"], "range": ["#e83ee0"]}, "legend": {"title": null, "labelExpr": "'DT us/ft'"}}
      }
    },
    {
      "spacing": 55,
      "bounds": "flush",
      "resolve": {"scale": {"color": "independent"}, "legend": {"color": "independent"}},
      "hconcat": [
        {
          "width": 81, "height": 706,
          "title": "Densidad",
          "data": {"name": "dens"},
          "transform": [{"fold": ["Densidad"], "as": ["serie", "valor"]}],
          "mark": {"type": "line"},
          "encoding": {
            "x": {"field": "valor", "type": "quantitative", "scale": {"domain": [1.95, 2.95], "nice": false, "zero": false}, "axis": {"orient": "top", "values": [1.95, 2.95], "format": ".2f", "grid": false, "title": null}},
            "y": {"field": "d", "type": "quantitative", "scale": {"domain": [7655, 8362], "reverse": true, "nice": false, "zero": false}, "axis": {"values": [7655,7755,7855,7955,8055,8155,8255,8355], "labels": false, "grid": true, "title": null}},
            "order": {"field": "d", "type": "quantitative"},
            "color": {"field": "serie", "type": "nominal", "scale": {"domain": ["Densidad"], "range": ["#4472c4"]}, "legend": {"title": null}}
          }
        },
        {
          "spacing": 49,
          "bounds": "flush",
          "resolve": {"scale": {"color": "independent"}, "legend": {"color": "independent"}},
          "hconcat": [
            {
              "width": 155, "height": 706,
              "title": "Vp -Vs Km/h",
              "data": {"name": "log"},
              "transform": [{"fold": ["Vp", "Vs"], "as": ["serie", "valor"]}],
              "mark": {"type": "line"},
              "encoding": {
                "x": {"field": "valor", "type": "quantitative", "scale": {"domain": [0, 10], "nice": false, "zero": false}, "axis": {"orient": "top", "values": [0, 5, 10], "grid": true, "title": null}},
                "y": {"field": "d", "type": "quantitative", "scale": {"domain": [7655, 8362], "reverse": true, "nice": false, "zero": false}, "axis": {"values": [7655,7755,7855,7955,8055,8155,8255,8355], "labels": false, "grid": true, "title": null}},
                "order": {"field": "d", "type": "quantitative"},
                "color": {"field": "serie", "type": "nominal", "scale": {"domain": ["Vp", "Vs"], "range": ["#4472c4", "#ed7d31"]}, "legend": {"title": null, "labelExpr": "datum.label == 'Vp' ? 'Vp Km/s' : 'Vs Km/s'"}}
              }
            },
            {
              "spacing": 51,
              "bounds": "flush",
              "resolve": {"scale": {"color": "independent"}, "legend": {"color": "independent"}},
              "hconcat": [
                {
                  "width": 153, "height": 706,
                  "title": "Presiones lpg",
                  "data": {"name": "pres"},
                  "transform": [{"fold": ["OBG", "PP", "PF"], "as": ["serie", "valor"]}],
                  "mark": {"type": "line"},
                  "encoding": {
                    "x": {"field": "valor", "type": "quantitative", "scale": {"domain": [5, 25], "nice": false, "zero": false}, "axis": {"orient": "top", "values": [5, 15, 25], "grid": true, "title": null}},
                    "y": {"field": "d", "type": "quantitative", "scale": {"domain": [7655, 8362], "reverse": true, "nice": false, "zero": false}, "axis": {"values": [7655,7755,7855,7955,8055,8155,8255,8355], "labels": false, "grid": true, "title": null}},
                    "order": {"field": "d", "type": "quantitative"},
                    "color": {"field": "serie", "type": "nominal", "scale": {"domain": ["OBG", "PP", "PF"], "range": ["#4472c4", "#ed7d31", "#a5a5a5"]}, "legend": {"title": null}}
                  }
                },
                {
                  "spacing": 39,
                  "bounds": "flush",
                  "resolve": {"scale": {"color": "independent"}, "legend": {"color": "independent"}},
                  "hconcat": [
                    {
                      "width": 287, "height": 706,
                      "title": "Propiedades",
                      "data": {"name": "log"},
                      "transform": [{"fold": ["Gydn", "Kdyn", "Cvol", "Edyn"], "as": ["serie", "valor"]}],
                      "mark": {"type": "line"},
                      "encoding": {
                        "x": {"field": "valor", "type": "quantitative", "scale": {"domain": [0, 20], "nice": false, "zero": false}, "axis": {"orient": "top", "values": [0, 5, 10, 15, 20], "grid": true, "title": null}},
                        "y": {"field": "d", "type": "quantitative", "scale": {"domain": [7655, 8362], "reverse": true, "nice": false, "zero": false}, "axis": {"values": [7655,7755,7855,7955,8055,8155,8255,8355], "labels": false, "grid": true, "title": null}},
                        "order": {"field": "d", "type": "quantitative"},
                        "color": {"field": "serie", "type": "nominal", "scale": {"domain": ["Gydn", "Kdyn", "Cvol", "Edyn"], "range": ["#70ad47", "#5b9bd5", "#ffc000", "#43682b"]}, "legend": {"title": null}}
                      }
                    },
                    {
                      "width": 141, "height": 706,
                      "title": "Propiedades",
                      "data": {"name": "log"},
                      "transform": [{"fold": ["UCS", "to"], "as": ["serie", "valor"]}],
                      "mark": {"type": "line"},
                      "encoding": {
                        "x": {"field": "valor", "type": "quantitative", "scale": {"domain": [0, 20000], "nice": false, "zero": false}, "axis": {"orient": "top", "values": [0, 10000, 20000], "format": "d", "grid": true, "title": null}},
                        "y": {"field": "d", "type": "quantitative", "scale": {"domain": [7655, 8362], "reverse": true, "nice": false, "zero": false}, "axis": {"values": [7655,7755,7855,7955,8055,8155,8255,8355], "labels": false, "grid": true, "title": null}},
                        "order": {"field": "d", "type": "quantitative"},
                        "color": {"field": "serie", "type": "nominal", "scale": {"domain": ["UCS", "to"], "range": ["#555555", "#b4b4b4"]}, "legend": {"title": null}}
                      }
                    }
                  ]
                }
              ]
            }
          ]
        }
      ]
    }
  ]
}
